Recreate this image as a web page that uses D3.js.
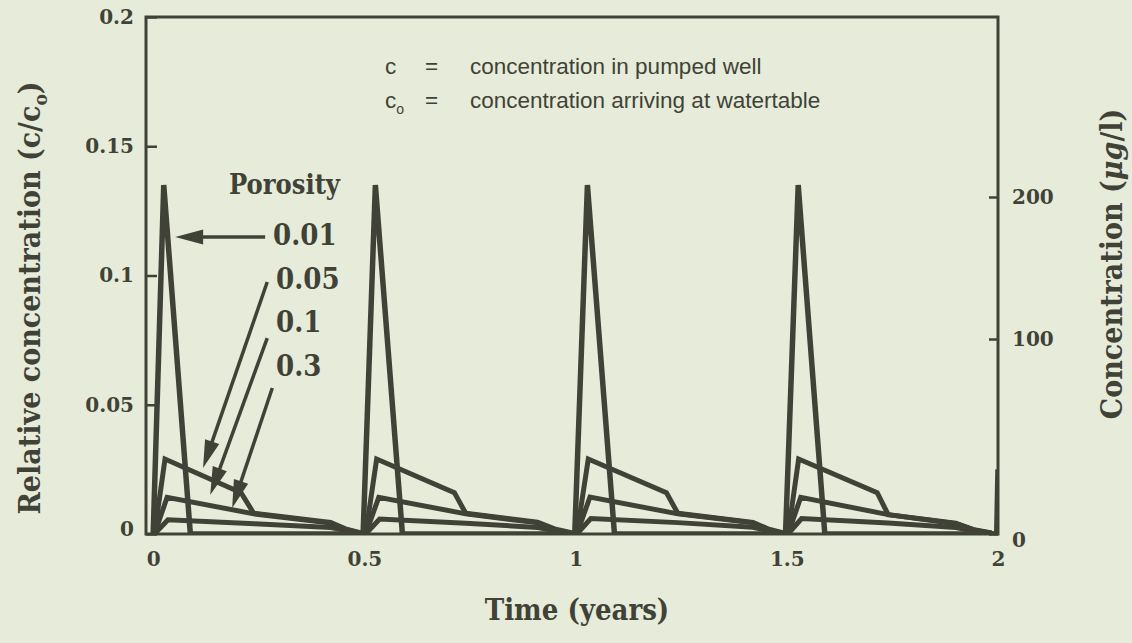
<!DOCTYPE html>
<html lang="en">
<head>
  <meta charset="UTF-8">
  <title>Relative concentration vs time</title>
  <style>
    body { margin: 0; background: #e6ecd9; }
    svg { display: block; }
    .serif { font-family: "DejaVu Serif Condensed", "DejaVu Serif", serif; font-weight: bold; fill: #414237; }
    .tick text { font-family: "DejaVu Serif", serif; font-weight: bold; font-size: 20px; fill: #414237; }
    .sans { font-family: "Liberation Sans", Arial, sans-serif; fill: #414237; }
  </style>
</head>
<body>
  <svg></svg>
  <script src="https://d3js.org/d3.v7.min.js"></script>
  <script>
    var width = 1132, height = 643;
    var ink = "#414237";

    // tick values
    var xTicks = [0, 0.5, 1, 1.5, 2];
    var yTicks = [0, 0.05, 0.1, 0.15, 0.2];
    var rightTicks = [0, 100, 200];

    // series: [time (years), c/co], one per porosity
    var p001 = [[0, 0], [0.025, 0.135], [0.088, 0], [0.497, 0], [0.526, 0.135], [0.59, 0],
                [0.998, 0], [1.028, 0.135], [1.092, 0], [1.497, 0], [1.527, 0.135], [1.59, 0],
                [1.997, 0], [2.0, 0.025]];
    var p005 = [[0.003, 0], [0.028, 0.029], [0.208, 0.016], [0.238, 0.008], [0.42, 0.0045], [0.455, 0.002], [0.49, 0.0005],
                [0.503, 0], [0.529, 0.029], [0.713, 0.016], [0.74, 0.008], [0.91, 0.0046], [0.95, 0.002], [0.99, 0.0005],
                [1.003, 0], [1.03, 0.029], [1.215, 0.016], [1.242, 0.008], [1.42, 0.0045], [1.455, 0.002], [1.49, 0.0005],
                [1.503, 0], [1.528, 0.029], [1.714, 0.016], [1.74, 0.0075], [1.9, 0.0042], [1.94, 0.0018], [1.985, 0.0004]];
    var p01 = [[0.003, 0], [0.033, 0.0142], [0.238, 0.0078], [0.42, 0.0042], [0.46, 0.0015], [0.49, 0.0003],
               [0.503, 0], [0.534, 0.0142], [0.74, 0.0078], [0.91, 0.0043], [0.955, 0.0015], [0.99, 0.0003],
               [1.003, 0], [1.034, 0.0143], [1.242, 0.0078], [1.42, 0.0043], [1.46, 0.0015], [1.49, 0.0003],
               [1.503, 0], [1.533, 0.0142], [1.74, 0.0075], [1.9, 0.004], [1.945, 0.0015], [1.985, 0.0003]];
    var p03 = [[0.003, 0], [0.035, 0.0055], [0.24, 0.004], [0.42, 0.0025], [0.47, 0.001], [0.495, 0],
               [0.503, 0], [0.536, 0.0058], [0.74, 0.0042], [0.91, 0.0025], [0.96, 0.001], [0.995, 0],
               [1.003, 0], [1.036, 0.006], [1.242, 0.0044], [1.42, 0.0026], [1.465, 0.001], [1.495, 0],
               [1.503, 0], [1.535, 0.006], [1.74, 0.0043], [1.9, 0.0025], [1.95, 0.001], [1.99, 0]];

    var porosityLabels = ["0.01", "0.05", "0.1", "0.3"];
    // arrows in data units: [from t, from c, tip t, tip c]
    var arrows = [[0.265, 0.1149, 0.052, 0.1149],
                  [0.27, 0.0975, 0.118, 0.0255],
                  [0.27, 0.0758, 0.135, 0.0151],
                  [0.282, 0.0565, 0.187, 0.0101]];

    var mLeft = 146, mRight = 998, mTop = 17, mBottom = 534;

    var x = d3.scaleLinear().domain([-0.017, 2]).range([mLeft, mRight]);
    var y = d3.scaleLinear().domain([0, 0.2]).range([mBottom, mTop]);
    var yR = d3.scaleLinear().domain([0, 100, 200]).range([mBottom, 339, 197]);

    var svg = d3.select("svg").attr("width", width).attr("height", height);

    svg.append("rect").attr("width", width).attr("height", height).attr("fill", "#e6ecd9");

    svg.append("clipPath").attr("id", "plot")
      .append("rect").attr("x", mLeft).attr("y", mTop).attr("width", mRight - mLeft).attr("height", mBottom - mTop);

    // axes
    var gl = svg.append("g").attr("transform", "translate(" + mLeft + ",0)")
      .call(d3.axisLeft(y).tickValues(yTicks).tickSize(-11).tickPadding(12).tickFormat(d => String(d)));
    var gr = svg.append("g").attr("transform", "translate(" + mRight + ",0)")
      .call(d3.axisRight(yR).tickValues(rightTicks).tickSize(-9).tickPadding(14).tickFormat(d => String(d)));
    var gb = svg.append("g").attr("transform", "translate(0," + mBottom + ")")
      .call(d3.axisBottom(x).tickValues(xTicks).tickSize(0).tickPadding(18).tickFormat(d => String(d)));

    [gl, gr, gb].forEach(function(g) {
      g.select(".domain").remove();
      g.selectAll(".tick line").attr("stroke", ink).attr("stroke-width", 2.5);
    });
    gl.selectAll(".tick").filter(d => d === 0).select("text").attr("dy", "0.05em");
    gr.selectAll(".tick").filter(d => d === 0).select("text").attr("dy", "0.6em");

    // curves
    var line = d3.line().x(d => x(d[0])).y(d => y(d[1]));
    var curves = svg.append("g").attr("clip-path", "url(#plot)");
    [p03, p01, p005, p001].forEach(function(s, i) {
      curves.append("path")
        .attr("d", line(s))
        .attr("fill", "none")
        .attr("stroke", ink)
        .attr("stroke-width", i === 3 ? 5.5 : 5);
    });

    // frame
    svg.append("rect")
      .attr("x", mLeft).attr("y", mTop).attr("width", mRight - mLeft).attr("height", mBottom - mTop)
      .attr("fill", "none").attr("stroke", ink).attr("stroke-width", 3);

    // arrows
    arrows.forEach(function(a) {
      var x1 = x(a[0]), y1 = y(a[1]), x2 = x(a[2]), y2 = y(a[3]);
      var dx = x2 - x1, dy = y2 - y1, len = Math.sqrt(dx * dx + dy * dy);
      var ux = dx / len, uy = dy / len, L = 28, w = 7.5;
      var bx = x2 - ux * L, by = y2 - uy * L;
      svg.append("line")
        .attr("x1", x1).attr("y1", y1).attr("x2", bx + ux * 4).attr("y2", by + uy * 4)
        .attr("stroke", ink).attr("stroke-width", 3.5);
      svg.append("path")
        .attr("d", "M" + x2 + "," + y2 + "L" + (bx - uy * w) + "," + (by + ux * w) + "L" + (bx + uy * w) + "," + (by - ux * w) + "Z")
        .attr("fill", ink);
    });

    // porosity labels
    svg.append("text").attr("class", "serif").attr("x", 229).attr("y", 194)
      .attr("font-size", 27).text("Porosity");
    porosityLabels.forEach(function(t, i) {
      svg.append("text").attr("class", "serif").attr("x", i === 0 ? 273 : 276).attr("y", 245 + i * 43.7)
        .attr("font-size", 29).text(t);
    });

    // definitions
    var def = svg.append("g").attr("class", "sans").attr("font-size", 22.5);
    def.append("text").attr("x", 385).attr("y", 74).text("c");
    def.append("text").attr("x", 425).attr("y", 74).text("=");
    def.append("text").attr("x", 470).attr("y", 74).text("concentration in pumped well");
    var co = def.append("text").attr("x", 385).attr("y", 108).text("c");
    co.append("tspan").attr("font-size", 14).attr("dy", 6).text("o");
    def.append("text").attr("x", 425).attr("y", 108).text("=");
    def.append("text").attr("x", 470).attr("y", 108).text("concentration arriving at watertable");

    // axis titles
    var lt = svg.append("text").attr("class", "serif").attr("font-size", 30)
      .attr("text-anchor", "middle").attr("transform", "translate(40,298) rotate(-90)")
      .text("Relative concentration (c/c");
    lt.append("tspan").attr("font-size", 19).attr("dy", 7).text("o");
    lt.append("tspan").attr("dy", -7).text(")");

    var rt = svg.append("text").attr("class", "serif").attr("font-size", 30)
      .attr("text-anchor", "middle").attr("transform", "translate(1122,264) rotate(-90)")
      .text("Concentration (");
    rt.append("tspan").attr("font-style", "italic").text("\u03bcg");
    rt.append("tspan").text("/l)");

    svg.append("text").attr("class", "serif").attr("font-size", 29)
      .attr("text-anchor", "middle").attr("x", 577).attr("y", 620)
      .text("Time (years)");
  </script>
</body>
</html>
